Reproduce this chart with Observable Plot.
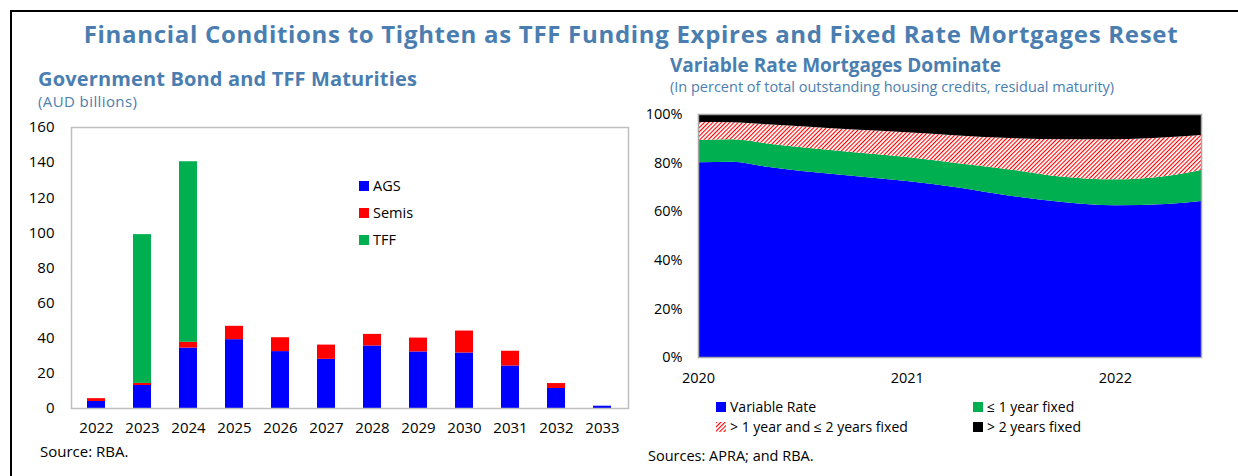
<!DOCTYPE html>
<html>
<head>
<meta charset="utf-8">
<script src="https://cdn.jsdelivr.net/npm/d3@7"></script>
<script src="https://cdn.jsdelivr.net/npm/@observablehq/plot@0.6"></script>
<style>
  body { margin: 0; background: #fff; font-family: "Open Sans", "Noto Sans", sans-serif; }
  #page { position: relative; width: 1238px; height: 476px; overflow: hidden; }
  .abs { position: absolute; white-space: nowrap; line-height: 1; }
  .blue { color: #4A7EB0; }
  .sw { display: inline-block; width: 10px; height: 10px; vertical-align: middle; margin-right: 4px; }
</style>
</head>
<body>
<svg width="0" height="0" style="position:absolute">
  <defs>
    <pattern id="hatch" patternUnits="userSpaceOnUse" width="3" height="3" patternTransform="rotate(45)">
      <rect width="3" height="3" fill="#ffffff"></rect>
      <line x1="0" y1="0" x2="0" y2="3" stroke="#FF0000" stroke-width="2.2"></line>
    </pattern>
  </defs>
</svg>
<div id="page">
  <div class="abs" style="left:10px;top:10px;width:1228px;height:466px;border-top:2px solid #000;border-left:2px solid #000;box-sizing:border-box;"></div>
  <div class="abs blue" id="title" style="left:0;width:1262px;text-align:center;top:22px;font-size:24px;letter-spacing:0.7px;font-weight:700;">Financial Conditions to Tighten as TFF Funding Expires and Fixed Rate Mortgages Reset</div>
  <div class="abs blue" style="left:38px;top:69px;font-size:20px;letter-spacing:0.15px;font-weight:700;">Government Bond and TFF Maturities</div>
  <div class="abs blue" style="left:38px;top:94px;font-size:15px;letter-spacing:0.4px;">(AUD billions)</div>
  <div class="abs blue" style="left:670px;top:56px;font-size:19px;font-weight:700;">Variable Rate Mortgages Dominate</div>
  <div class="abs blue" style="left:670px;top:80px;font-size:14.5px;">(In percent of total outstanding housing credits, residual maturity)</div>
  <div id="left" class="abs" style="left:0;top:110px;"></div>
  <div id="right" class="abs" style="left:620px;top:100px;"></div>
  <div id="leftLegend" class="abs" style="left:359px;top:176px;font-size:14.5px;"></div>
  <div id="rightLegend" class="abs" style="left:716px;top:397px;font-size:14px;"></div>
  <div class="abs" style="left:40px;top:444px;font-size:15px;">Source: RBA.</div>
  <div class="abs" style="left:648px;top:449px;font-size:14.5px;">Sources: APRA; and RBA.</div>
</div>
<script>
// ---- Left chart data: Government bond and TFF maturities (AUD billions)
const years = ["2022","2023","2024","2025","2026","2027","2028","2029","2030","2031","2032","2033"];
const ags   = [4.0, 13.1, 34.4, 39.2, 32.4, 28.0, 35.6, 32.2, 31.6, 24.2, 11.4, 1.3];
const semis = [1.6, 1.2, 3.3, 7.6, 7.9, 8.1, 6.6, 7.9, 12.5, 8.4, 2.8, 0];
const tff   = [0, 84.7, 102.8, 0, 0, 0, 0, 0, 0, 0, 0, 0];
const bondSeries = ["AGS", "Semis", "TFF"];
const bondColors = ["#0000FF", "#FF0000", "#00B050"];
const bondTicks = [0, 20, 40, 60, 80, 100, 120, 140, 160];

// ---- Right chart data: share of housing credit by residual fixed maturity (%)
const months      = ["2020-01","2020-03","2020-05","2020-07","2020-10","2021-01","2021-04","2021-07","2021-10","2022-01","2022-04","2022-06"];
const variable    = [80.1, 80.4, 78.3, 76.5, 74.5, 72.4, 69.8, 66.4, 63.8, 62.4, 63.0, 64.2];
const fixedLe1    = [9.2, 9.2, 9.6, 9.8, 9.8, 9.9, 9.9, 10.8, 10.4, 10.7, 11.5, 12.8];
const fixed1to2   = [7.4, 7.0, 7.9, 8.7, 9.3, 10.2, 11.5, 12.9, 15.4, 16.5, 15.9, 14.4];
const fixedGt2    = [3.3, 3.4, 4.2, 5.0, 6.4, 7.5, 8.8, 9.9, 10.4, 10.4, 9.6, 8.6];
const mortSeries  = ["Variable Rate", "≤ 1 year fixed", "> 1 year and ≤ 2 years fixed", "> 2 years fixed"];
const mortColors  = ["#0000FF", "#00B050", "url(#hatch)", "#000000"];
const mortYearTicks = ["2020-01", "2021-01", "2022-01"];
const pctTicks = [0, 20, 40, 60, 80, 100];

const font = '"Open Sans", "Noto Sans", sans-serif';

// Build tables
const bondValues = [ags, semis, tff];
const bondRows = [];
years.forEach((y, i) => bondSeries.forEach((s, k) => bondRows.push({year: y, series: s, value: bondValues[k][i]})));

const parseMonth = d3.utcParse("%Y-%m");
const mortValues = [variable, fixedLe1, fixed1to2, fixedGt2];
const mortRows = [];
months.forEach((m, i) => mortSeries.forEach((s, k) => mortRows.push({date: parseMonth(m), series: s, value: mortValues[k][i]})));

const leftPlot = Plot.plot({
  width: 640, height: 340,
  marginLeft: 71, marginRight: 12, marginTop: 17, marginBottom: 42,
  style: {fontSize: "15px", fontFamily: font, color: "#000", background: "transparent"},
  x: {type: "band", domain: years, paddingInner: 0.6, paddingOuter: 0.3, label: null, tickSize: 0, tickPadding: 14},
  y: {domain: [0, 160], ticks: bondTicks, label: null, tickSize: 0, tickPadding: 17},
  color: {domain: bondSeries, range: bondColors},
  marks: [
    Plot.barY(bondRows, {x: "year", y: "value", fill: "series", order: bondSeries}),
    Plot.frame({stroke: "#BFBFBF", strokeWidth: 1.5})
  ]
});
document.getElementById("left").appendChild(leftPlot);

const rightPlot = Plot.plot({
  width: 600, height: 300,
  marginLeft: 78, marginRight: 19, marginTop: 14, marginBottom: 43,
  style: {fontSize: "14.5px", fontFamily: font, color: "#000", background: "transparent"},
  x: {type: "utc", domain: [parseMonth(months[0]), parseMonth(months[months.length - 1])],
      ticks: mortYearTicks.map(parseMonth), tickFormat: "%Y", label: null, tickSize: 0, tickPadding: 15},
  y: {domain: [0, 100], ticks: pctTicks, tickFormat: d => d + "%", label: null, tickSize: 0, tickPadding: 16},
  color: {domain: mortSeries, range: mortColors},
  marks: [
    Plot.areaY(mortRows, {x: "date", y: "value", fill: "series", order: mortSeries, curve: "monotone-x"}),
    Plot.frame({stroke: "#A6A6A6", strokeWidth: 1.5})
  ]
});
document.getElementById("right").appendChild(rightPlot);

// Legends
const ll = document.getElementById("leftLegend");
bondSeries.forEach((s, k) => {
  const row = document.createElement("div");
  row.style.cssText = "height:27px;line-height:18px;";
  row.innerHTML = `<span class="sw" style="background:${bondColors[k]}"></span><span style="vertical-align:middle">${s}</span>`;
  ll.appendChild(row);
});
const rl = document.getElementById("rightLegend");
mortSeries.forEach((s, k) => {
  const item = document.createElement("div");
  item.style.cssText = `position:absolute;left:${(k % 2) * 257}px;top:${Math.floor(k / 2) * 20}px;line-height:18px;white-space:nowrap;`;
  item.innerHTML = `<svg width="10" height="10" style="vertical-align:middle;margin-right:4px"><rect width="10" height="10" fill="${mortColors[k]}"></rect></svg><span style="vertical-align:middle">${s}</span>`;
  rl.appendChild(item);
});
</script>
</body>
</html>
